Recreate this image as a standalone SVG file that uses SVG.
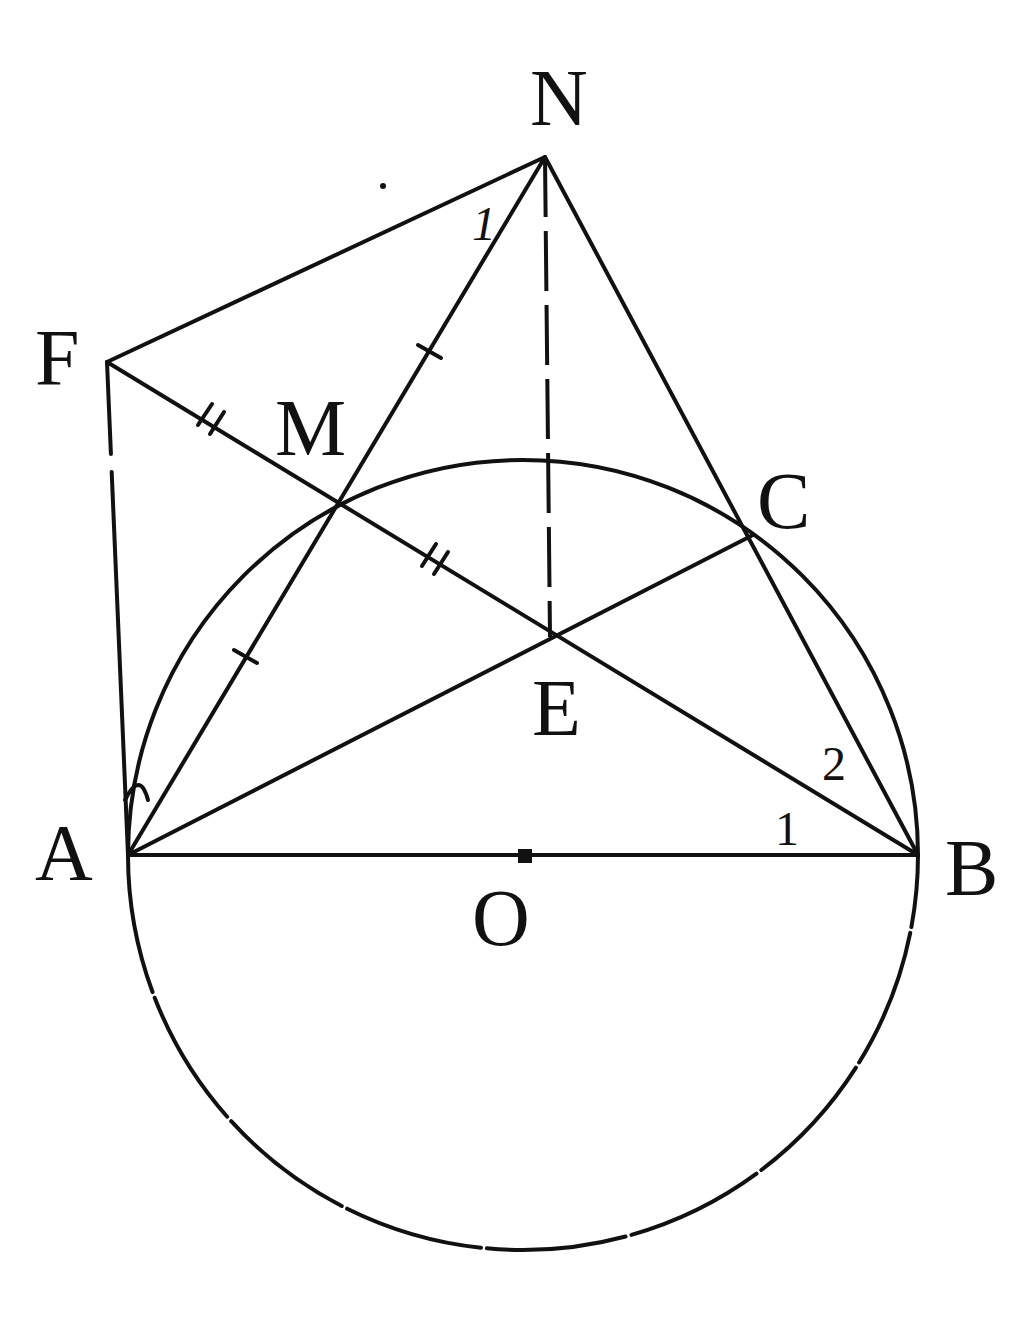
<svg xmlns="http://www.w3.org/2000/svg" width="1024" height="1328" viewBox="0 0 1024 1328">
<style>
.ln{stroke:#111;stroke-width:4;fill:none;stroke-linecap:round}
.ds{stroke:#111;stroke-width:4;fill:none;stroke-dasharray:60 14}
.lb{font-family:"Liberation Serif",serif;font-size:80px;fill:#111}
.sm{font-family:"Liberation Serif",serif;font-size:48px;fill:#111}
</style>
<rect width="1024" height="1328" fill="#fff"/>
<g id="connectors">
<path class="ln" d="M128,855 A395,395 0 0 1 918,855"/>
<path class="ln" d="M128,855 A395,395 0 0 0 918,855" stroke-dasharray="140 6"/>
<line class="ln" x1="128" y1="855" x2="918" y2="855"/>
<line class="ln" x1="107" y1="362" x2="545" y2="157"/>
<line class="ln" x1="107" y1="362" x2="128" y2="855" stroke-dasharray="92 18 500" stroke-linecap="butt"/>
<line class="ln" x1="107" y1="362" x2="918" y2="855"/>
<line class="ln" x1="545" y1="157" x2="128" y2="855"/>
<line class="ln" x1="545" y1="157" x2="918" y2="855"/>
<line class="ds" x1="545" y1="157" x2="550" y2="637" stroke-dasharray="40 12"/>
<line class="ln" x1="128" y1="855" x2="753" y2="535"/>
<path class="ln" d="M125,800 Q140,770 148,800" stroke-width="3"/>
<g class="ln" stroke-width="4">
<line x1="198" y1="425" x2="212" y2="404"/>
<line x1="210" y1="434" x2="224" y2="412"/>
<line x1="422" y1="566" x2="436" y2="544"/>
<line x1="434" y1="574" x2="448" y2="552"/>
<line x1="418" y1="345" x2="441" y2="358"/>
<line x1="234" y1="650" x2="257" y2="663"/>
</g>
<rect x="518" y="849" width="14" height="14" fill="#111"/>
<circle cx="383" cy="186" r="3" fill="#111"/>
</g>
<g id="N"><text class="lb" x="530" y="125">N</text></g>
<g id="F"><text class="lb" x="35" y="385">F</text></g>
<g id="M"><text class="lb" x="275" y="455">M</text></g>
<g id="C"><text class="lb" x="757" y="528">C</text></g>
<g id="E"><text class="lb" x="532" y="735">E</text></g>
<g id="A"><text class="lb" x="35" y="880">A</text></g>
<g id="B"><text class="lb" x="945" y="895">B</text></g>
<g id="O"><text class="lb" x="472" y="945">O</text></g>
<g id="angles">
<text class="sm" x="472" y="240" font-style="italic">1</text>
<text class="sm" x="822" y="780">2</text>
<text class="sm" x="775" y="845">1</text>
</g>
</svg>
